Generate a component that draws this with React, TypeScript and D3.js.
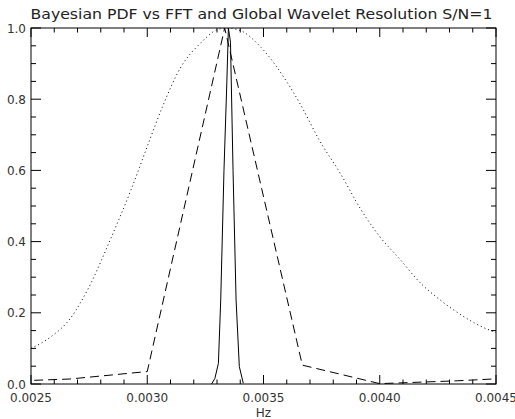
import * as d3 from "d3";

// dotted curve: Bayesian PDF
const pdfFreq = [0.0025, 0.00258, 0.00267, 0.00275, 0.00284, 0.00293, 0.0030, 0.00307, 0.00314, 0.00323, 0.0033, 0.00334, 0.0034, 0.00349, 0.0036, 0.00366, 0.00374, 0.00383, 0.00392, 0.0040, 0.00409, 0.00417, 0.00426, 0.00435, 0.00447, 0.0045];
const pdfValue = [0.10, 0.13, 0.185, 0.273, 0.404, 0.545, 0.667, 0.786, 0.885, 0.958, 0.995, 1.0, 0.993, 0.945, 0.849, 0.784, 0.685, 0.592, 0.489, 0.414, 0.348, 0.287, 0.236, 0.194, 0.152, 0.145];

// dashed curve: FFT bins
const fftFreq = [0.002333, 0.002667, 0.0030, 0.003333, 0.003667, 0.0040, 0.004333, 0.004667];
const fftValue = [0.006, 0.014, 0.035, 1.0, 0.053, 0.001, 0.009, 0.02];

// solid curve: global wavelet
const gwsFreq = [0.003277, 0.003291, 0.003306, 0.003316, 0.00333, 0.003342, 0.003349, 0.003358, 0.003369, 0.003382, 0.003396, 0.003413];
const gwsValue = [0.0, 0.016, 0.058, 0.236, 0.6, 0.84, 1.0, 0.96, 0.6, 0.236, 0.049, 0.002];

const xTicks = [0.0025, 0.003, 0.0035, 0.004, 0.0045];
const xTickLabels = ["0.0025", "0.0030", "0.0035", "0.0040", "0.0045"];
const yTicks = [0, 0.2, 0.4, 0.6, 0.8, 1.0];
const yTickLabels = ["0.0", "0.2", "0.4", "0.6", "0.8", "1.0"];

const title = "Bayesian PDF vs FFT and Global Wavelet Resolution S/N=1";
const xTitle = "Hz";

export default function App() {
  const width = 515;
  const height = 419;
  const left = 31, right = 496, top = 28, bottom = 384;

  const x = d3.scaleLinear().domain([0.0025, 0.0045]).range([left, right]);
  const y = d3.scaleLinear().domain([0, 1]).range([bottom, top]);

  const xMinor = d3.range(0, 21).map(i => 0.0025 + i * 0.0001);
  const yMinor = d3.range(0, 21).map(i => i * 0.05);

  const mk = (fs: number[], vs: number[], curve: any) =>
    d3.line<number>().x((_, i) => x(fs[i])).y((_, i) => y(vs[i])).curve(curve)(fs) as string;

  const pdfPath = mk(pdfFreq, pdfValue, d3.curveMonotoneX);
  const fftPath = mk(fftFreq, fftValue, d3.curveLinear);
  const gwsPath = mk(gwsFreq, gwsValue, d3.curveLinear);

  const isMajor = (v: number, arr: number[]) => arr.some(t => Math.abs(t - v) < 1e-9);
  const font = "'DejaVu Sans', sans-serif";

  return (
    <svg width={width} height={height} style={{ position: "absolute", left: 0, top: 0, background: "#fff" }}>
      <defs>
        <clipPath id="plot">
          <rect x={left} y={top} width={right - left} height={bottom - top} />
        </clipPath>
      </defs>
      <text x={(left + right) / 2 - 2} y={19} textAnchor="middle" fontFamily={font} fontSize={14}
        fill="#222" textLength={462} lengthAdjust="spacingAndGlyphs">{title}</text>

      <g clipPath="url(#plot)" fill="none" stroke="#000" strokeWidth={1}>
        <path d={pdfPath} strokeDasharray="1,3" />
        <path d={fftPath} strokeDasharray="9,5" />
        <path d={gwsPath} />
      </g>

      <rect x={left} y={top} width={right - left} height={bottom - top} fill="none" stroke="#000" strokeWidth={1} />

      <g stroke="#000" strokeWidth={1}>
        {xMinor.map((v, i) => {
          const len = isMajor(v, xTicks) ? 9 : 4.5;
          const px = x(v);
          return (
            <g key={"x" + i}>
              <line x1={px} x2={px} y1={bottom} y2={bottom - len} />
              <line x1={px} x2={px} y1={top} y2={top + len} />
            </g>
          );
        })}
        {yMinor.map((v, i) => {
          const len = isMajor(v, yTicks) ? 10 : 5;
          const py = y(v);
          return (
            <g key={"y" + i}>
              <line x1={left} x2={left + len} y1={py} y2={py} />
              <line x1={right} x2={right - len} y1={py} y2={py} />
            </g>
          );
        })}
      </g>

      <g fontFamily={font} fontSize={12} fill="#333">
        {xTicks.map((v, i) => (
          <text key={"xl" + i} x={x(v)} y={402} textAnchor="middle">{xTickLabels[i]}</text>
        ))}
        {yTicks.map((v, i) => (
          <text key={"yl" + i} x={26} y={y(v) + 4.5} textAnchor="end">{yTickLabels[i]}</text>
        ))}
        <text x={(left + right) / 2} y={417} textAnchor="middle">{xTitle}</text>
      </g>
    </svg>
  );
}
